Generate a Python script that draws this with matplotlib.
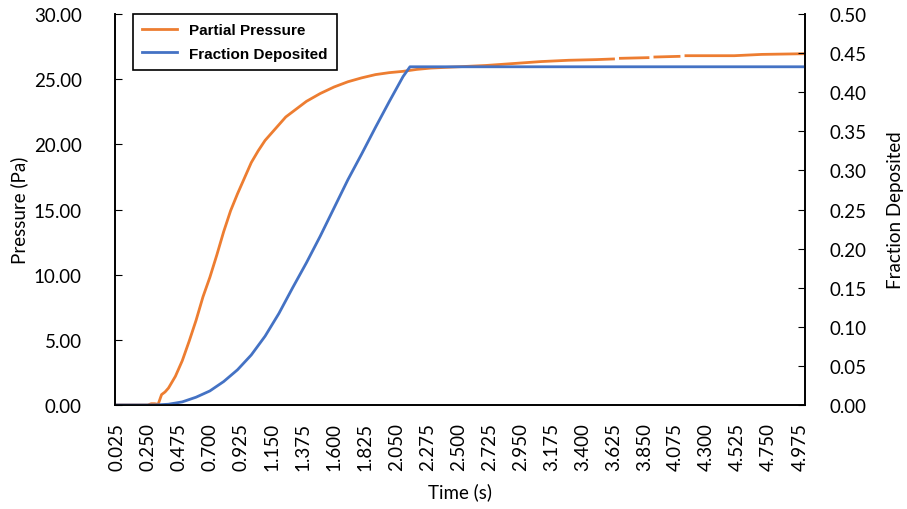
import numpy as np
import matplotlib.pyplot as plt

# partial pressure (Pa) -- nan marks the missing samples that leave gaps
t_pressure = [0.025, 0.25, 0.275, 0.3, 0.325, 0.35, 0.375, 0.4, 0.45, 0.5,
              0.55, 0.6, 0.65, 0.7, 0.75, 0.8, 0.85, 0.9, 0.95, 1.0,
              1.05, 1.1, 1.15, 1.2, 1.25, 1.3, 1.4, 1.5, 1.6, 1.7,
              1.8, 1.9, 2.0, 2.1, 2.2, 2.3, 2.5, 2.7, 2.9, 3.1,
              3.3, 3.5, 3.625, 3.65, 3.675, 3.875, 3.9, 3.925, 4.1, 4.125,
              4.15, 4.5, 4.7, 5.0]
pressure = [0.0, 0.0, 0.1, 0.1, 0.05, 0.8, 1.0, 1.3, 2.2, 3.4,
            4.9, 6.5, 8.3, 9.8, 11.5, 13.3, 14.9, 16.2, 17.4, 18.6,
            19.5, 20.3, 20.9, 21.5, 22.1, 22.5, 23.3, 23.9, 24.4, 24.8,
            25.1, 25.35, 25.5, 25.6, 25.75, 25.85, 25.95, 26.05, 26.2, 26.35,
            26.45, 26.5, 26.55, np.nan, 26.6, 26.65, np.nan, 26.7, 26.75, np.nan,
            26.8, 26.8, 26.9, 26.95]

# fraction deposited
t_fraction = [0.025, 0.3, 0.4, 0.5, 0.6, 0.7, 0.8, 0.9, 1.0, 1.1,
              1.2, 1.3, 1.4, 1.5, 1.6, 1.7, 1.8, 1.9, 2.0, 2.1,
              2.15, 5.0]
fraction = [0.0, 0.0, 0.001, 0.004, 0.010, 0.018, 0.030, 0.045, 0.064, 0.088,
            0.117, 0.150, 0.182, 0.216, 0.252, 0.288, 0.321, 0.355, 0.388, 0.420,
            0.4325, 0.4325]

tick_times = [0.025 + 0.225 * k for k in range(23)]

orange = '#ED7D31'
blue = '#4472C4'
plt.rcParams['font.family'] = ['Lato', 'DejaVu Sans']

fig = plt.figure(figsize=(9.07, 5.10), dpi=100)
ax = fig.add_axes([0.1268, 0.2039, 0.7607, 0.7667])
ax2 = ax.twinx()

l1, = ax.plot(t_pressure, pressure, color=orange, lw=2.0, label='Partial Pressure')
l2, = ax2.plot(t_fraction, fraction, color=blue, lw=2.0, label='Fraction Deposited')

ax.set_xlim(0.0125, 5.0125)
ax.set_ylim(0, 30)
ax2.set_ylim(0, 0.5)
ax.set_yticks(np.arange(0, 30.1, 5))
ax.set_yticklabels([f'{v:.2f}' for v in np.arange(0, 30.1, 5)])
ax2.set_yticks(np.arange(0, 0.501, 0.05))
ax2.set_yticklabels([f'{v:.2f}' for v in np.arange(0, 0.501, 0.05)])
ax.set_xticks(tick_times)
ax.set_xticklabels([f'{v:.3f}' for v in tick_times], rotation=90)

ax.tick_params(axis='y', direction='in', length=5, pad=24, labelsize=13.5)
ax2.tick_params(axis='y', direction='in', length=5, pad=18, labelsize=13.5)
ax.tick_params(axis='x', length=0, pad=12, labelsize=13.5)
for a in (ax, ax2):
    a.spines['top'].set_visible(False)
    for s in a.spines.values():
        s.set_linewidth(1.2)

ax.set_xlabel('Time (s)', fontsize=13.5, labelpad=9)
ax.set_ylabel('Pressure (Pa)', fontsize=13.5, labelpad=4)
ax2.set_ylabel('Fraction Deposited', fontsize=13.5, labelpad=14)

leg = ax.legend(handles=[l1, l2], loc='upper left', bbox_to_anchor=(0.026, 1.0),
                borderaxespad=0, fancybox=False, framealpha=1, edgecolor='black',
                prop={'family': 'Liberation Sans', 'weight': 'bold', 'size': 11},
                handlelength=2.3, borderpad=0.6, labelspacing=0.62)
leg.get_frame().set_linewidth(1.2)

fig.savefig('out.png', dpi=100)
